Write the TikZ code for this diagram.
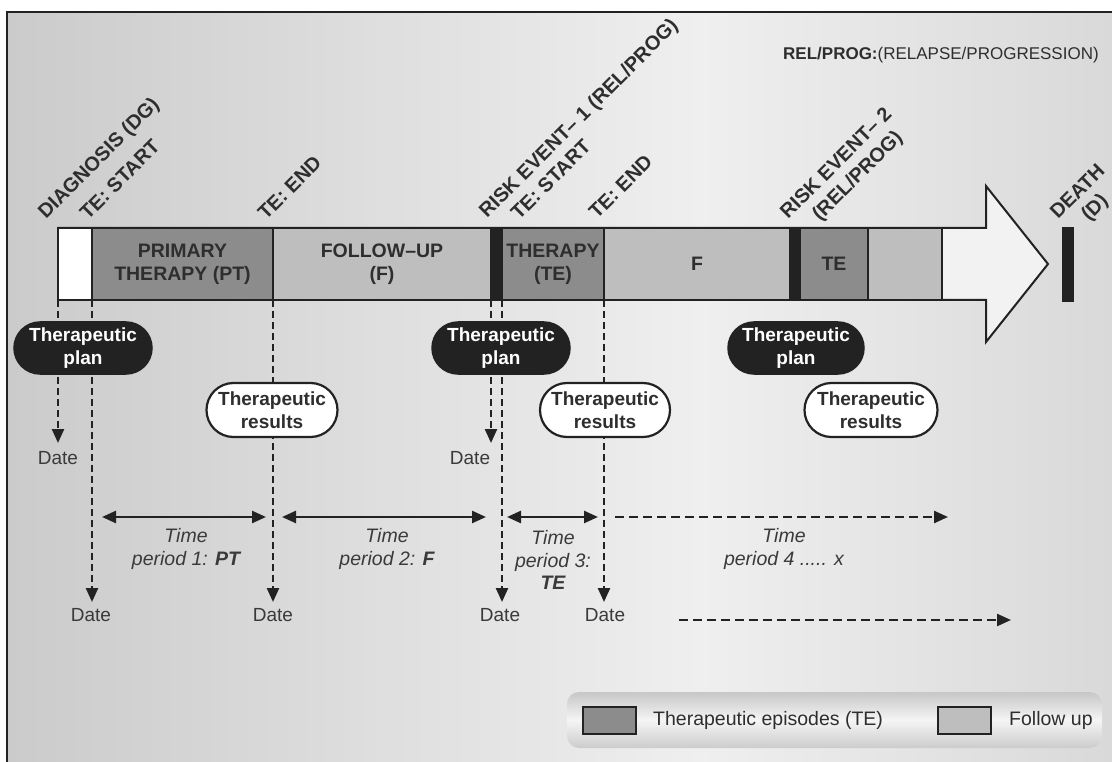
\documentclass[tikz,border=0pt]{standalone}
\usepackage{fontspec}
\setmainfont{Liberation Sans}
\usetikzlibrary{arrows.meta,shapes.misc}

\definecolor{ink}{HTML}{222222}
\definecolor{txt}{HTML}{2E2E2E}
\definecolor{soft}{HTML}{3A3A3A}
\definecolor{tecol}{HTML}{8C8C8C}
\definecolor{fucol}{HTML}{BEBEBE}
\definecolor{shaft}{HTML}{F2F2F2}
\definecolor{bgL}{HTML}{CBCBCB}
\definecolor{bgM}{HTML}{EFEFEF}
\definecolor{bgR}{HTML}{D9D9D9}

\begin{document}
\begin{tikzpicture}[x=1pt,y=-1pt,
  seg/.style={draw=ink,line width=2pt,anchor=north west,minimum height=72pt,
    inner sep=0pt,outer sep=0pt,font=\fontsize{19.5}{23}\selectfont\bfseries,
    text=txt,align=center},
  rlab/.style={rotate=45,anchor=base west,inner sep=0pt,
    font=\fontsize{20}{24}\selectfont\bfseries,text=txt},
  planpill/.style={rounded rectangle,fill=ink,draw=ink,line width=1.5pt,
    minimum width=138pt,minimum height=52pt,inner sep=0pt,align=center,
    text=white,font=\fontsize{19}{22.5}\selectfont\bfseries},
  respill/.style={rounded rectangle,fill=white,draw=ink,line width=2.2pt,
    minimum width=131pt,minimum height=54pt,inner sep=0pt,align=center,
    text=txt,font=\fontsize{19}{22.5}\selectfont\bfseries},
  datelab/.style={font=\fontsize{19}{22}\selectfont,text=soft,inner sep=0pt},
  timelab/.style={font=\fontsize{19.5}{22.5}\selectfont\itshape,text=soft,
    align=center,inner sep=0pt},
  dashar/.style={draw=ink,line width=2.4pt,dash pattern=on 7pt off 4pt,
    -{Triangle[length=14pt,width=12pt]}},
  span/.style={draw=ink,line width=2.4pt,
    {Triangle[length=14pt,width=12pt]}-{Triangle[length=14pt,width=12pt]}},
  spandash/.style={draw=ink,line width=2.4pt,dash pattern=on 9pt off 5pt,
    -{Triangle[length=14pt,width=12pt]}},
  swatch/.style={draw=ink,line width=2pt,minimum width=53pt,minimum height=27pt,
    inner sep=0pt},
  legtext/.style={anchor=west,inner sep=0pt,font=\fontsize{19.5}{22}\selectfont,text=txt},
]
\useasboundingbox (0,0) rectangle (1112,762);

% framed, shaded backdrop
\shade[left color=bgL,right color=bgM] (7,12) rectangle (701,762);
\shade[left color=bgM,right color=bgR] (700,12) rectangle (1112,762);
\draw[ink,line width=2.5pt] (7,762) -- (7,12) -- (1112,12);

% the time-line arrow
\draw[ink,line width=2pt,fill=shaft]
  (58,228) -- (986,228) -- (986,186) -- (1048,264) -- (986,342) -- (986,300) -- (58,300) -- cycle;

% segments of the time line
\node[seg,fill=white,minimum width=34pt] (dg) at (58,228) {};
\node[seg,fill=tecol,minimum width=181pt] (pt) at (92,228) {PRIMARY\\THERAPY (PT)};
\node[seg,fill=fucol,minimum width=218pt] (fu) at (273,228) {FOLLOW–UP\\(F)};
\node[seg,fill=ink,minimum width=11pt] (re1) at (491,228) {};
\node[seg,fill=tecol,minimum width=102pt] (th) at (502,228) {THERAPY\\(TE)};
\node[seg,fill=fucol,minimum width=186pt] (fb) at (604,228) {F};
\node[seg,fill=ink,minimum width=10pt] (re2) at (790,228) {};
\node[seg,fill=tecol,minimum width=68pt] (te) at (800,228) {TE};
\node[seg,fill=fucol,minimum width=74pt] (fc) at (868,228) {};
\node[fill=ink,minimum width=12pt,minimum height=75pt,inner sep=0pt,anchor=north west] (death) at (1062,227) {};

% event labels
\node[rlab] (lDG) at (46,220) {DIAGNOSIS (DG)};
\node[rlab] (lS1) at (88,221) {TE: START};
\node[rlab] (lE1) at (266,221) {TE: END};
\node[rlab] (lR1) at (487,219) {RISK EVENT– 1 (REL/PROG)};
\node[rlab] (lS2) at (519,221) {TE: START};
\node[rlab] (lE2) at (597,220) {TE: END};
\node[rlab] (lR2) at (788,220) {RISK EVENT– 2};
\node[rlab] (lR2b) at (820,222) {(REL/PROG)};
\node[rlab] (lD) at (1058,220) {DEATH};
\node[rlab] (lDb) at (1089,222) {(D)};

\node[anchor=west,inner sep=0pt,font=\fontsize{17}{20}\selectfont,text=txt] (relprog)
  at (783,55) {\textbf{REL/PROG:}(RELAPSE/PROGRESSION)};

% arrow ends of the date drops
\coordinate (e1) at (58,443);
\coordinate (e2) at (92,602);
\coordinate (e3) at (273,602);
\coordinate (e4) at (491,443);
\coordinate (e5) at (502,602);
\coordinate (e6) at (604,602);

\draw[dashar] (dg.south west) -- (e1);
\draw[dashar] (pt.south west) -- (e2);
\draw[dashar] (fu.south west) -- (e3);
\draw[dashar] (re1.south west) -- (e4);
\draw[dashar] (th.south west) -- (e5);
\draw[dashar] (fb.south west) -- (e6);

% dates
\node[datelab] (dt1) at (58,458) {Date};
\node[datelab] (dt2) at (91,615) {Date};
\node[datelab] (dt3) at (273,615) {Date};
\node[datelab] (dt4) at (470,458) {Date};
\node[datelab] (dt5) at (500,615) {Date};
\node[datelab] (dt6) at (605,615) {Date};

% plans and results
\node[planpill] (plan1) at (83,348) {Therapeutic\\plan};
\node[planpill] (plan2) at (501,348) {Therapeutic\\plan};
\node[planpill,minimum width=136pt] (plan3) at (796,348) {Therapeutic\\plan};
\node[respill] (res1) at (272,410) {Therapeutic\\results};
\node[respill,minimum width=130pt] (res2) at (605,410) {Therapeutic\\results};
\node[respill,minimum width=133pt] (res3) at (871,410) {Therapeutic\\results};

% time periods
\coordinate (p1a) at (102,517); \coordinate (p1b) at (266,517);
\coordinate (p2a) at (282,517); \coordinate (p2b) at (486,517);
\coordinate (p3a) at (507,517); \coordinate (p3b) at (598,517);
\coordinate (p4a) at (615,517); \coordinate (p4b) at (948,517);
\coordinate (q1) at (679,620);  \coordinate (q2) at (1011,620);
\draw[span] (p1a) -- (p1b);
\draw[span] (p2a) -- (p2b);
\draw[span] (p3a) -- (p3b);
\draw[spandash] (p4a) -- (p4b);
\draw[spandash] (q1) -- (q2);

\node[timelab] (tp1) at (186,549) {Time\\period 1: \textbf{PT}};
\node[timelab] (tp2) at (387,549) {Time\\period 2: \textbf{F}};
\node[timelab] (tp3) at (553,560) {Time\\period 3:\\\textbf{TE}};
\node[timelab] (tp4) at (784,549) {Time\\period 4 ..... x};

% legend
\shade[top color=black!22,bottom color=black!20,middle color=black!4,
  rounded corners=12pt] (567,692) rectangle (1102,748);
\node[swatch,fill=tecol] (swte) at (609,720.5) {};
\node[legtext] (ltte) at (653,720) {Therapeutic episodes (TE)};
\node[swatch,fill=fucol] (swfu) at (964.5,720.5) {};
\node[legtext] (ltfu) at (1009,720) {Follow up};
\end{tikzpicture}
\end{document}
